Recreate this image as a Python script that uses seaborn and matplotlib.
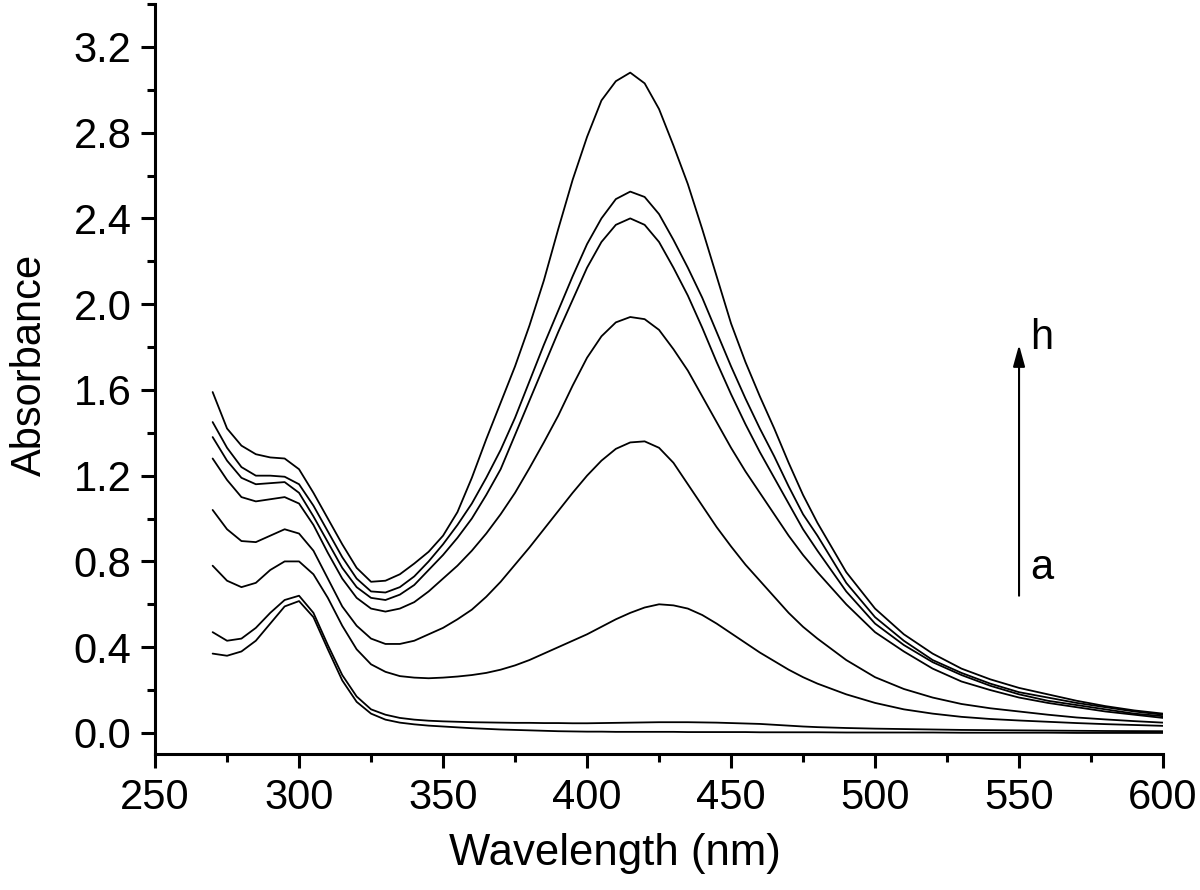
import numpy as np
import pandas as pd
import matplotlib
matplotlib.use("Agg")
import matplotlib.pyplot as plt
import seaborn as sns
from matplotlib.ticker import MultipleLocator, FormatStrFormatter

# wavelength grid (nm)
wavelength = [270, 275, 280, 285, 290, 295, 300, 305, 310, 315, 320, 325, 330,
              335, 340, 345, 350, 355, 360, 365, 370, 375, 380, 385, 390, 395,
              400, 405, 410, 415, 420, 425, 430, 435, 440, 445, 450, 455, 460,
              465, 470, 475, 480, 490, 500, 510, 520, 530, 540, 550, 560, 570,
              580, 590, 600]

# absorbance of each spectrum, a (bottom) to h (top)
abs_a = [0.37, 0.36, 0.38, 0.43, 0.51, 0.59, 0.615, 0.54, 0.39, 0.245, 0.145,
         0.09, 0.062, 0.048, 0.04, 0.034, 0.03, 0.026, 0.022, 0.019, 0.016,
         0.014, 0.012, 0.01, 0.008, 0.007, 0.006, 0.006, 0.005, 0.005, 0.005,
         0.005, 0.005, 0.004, 0.004, 0.004, 0.004, 0.004, 0.003, 0.003, 0.003,
         0.003, 0.003, 0.002, 0.002, 0.002, 0.002, 0.001, 0.001, 0.001, 0.001,
         0.0, 0.0, 0.0, 0.0]
abs_b = [0.47, 0.43, 0.44, 0.49, 0.56, 0.62, 0.64, 0.56, 0.41, 0.27, 0.17,
         0.11, 0.085, 0.07, 0.062, 0.057, 0.054, 0.052, 0.05, 0.049, 0.048,
         0.047, 0.047, 0.046, 0.046, 0.045, 0.045, 0.046, 0.047, 0.048, 0.049,
         0.05, 0.05, 0.05, 0.049, 0.048, 0.046, 0.044, 0.042, 0.038, 0.034,
         0.03, 0.027, 0.023, 0.02, 0.018, 0.016, 0.014, 0.013, 0.012, 0.011,
         0.01, 0.009, 0.0085, 0.008]
abs_c = [0.78, 0.71, 0.68, 0.70, 0.76, 0.80, 0.80, 0.74, 0.63, 0.50, 0.39,
         0.32, 0.285, 0.265, 0.258, 0.255, 0.258, 0.263, 0.27, 0.28, 0.295,
         0.315, 0.34, 0.37, 0.40, 0.43, 0.46, 0.495, 0.53, 0.56, 0.585, 0.60,
         0.595, 0.58, 0.55, 0.51, 0.465, 0.42, 0.375, 0.335, 0.295, 0.26, 0.23,
         0.18, 0.14, 0.11, 0.09, 0.075, 0.065, 0.058, 0.052, 0.046, 0.041,
         0.037, 0.033]
abs_d = [1.04, 0.95, 0.895, 0.89, 0.92, 0.95, 0.93, 0.85, 0.72, 0.59, 0.50,
         0.44, 0.415, 0.415, 0.43, 0.46, 0.49, 0.53, 0.575, 0.635, 0.705,
         0.785, 0.865, 0.95, 1.035, 1.12, 1.20, 1.27, 1.325, 1.355, 1.36,
         1.33, 1.26, 1.16, 1.06, 0.96, 0.87, 0.785, 0.71, 0.635, 0.56, 0.495,
         0.44, 0.34, 0.26, 0.205, 0.165, 0.135, 0.115, 0.10, 0.085, 0.072,
         0.063, 0.055, 0.048]
abs_e = [1.28, 1.18, 1.10, 1.08, 1.09, 1.10, 1.07, 0.97, 0.84, 0.72, 0.63,
         0.58, 0.566, 0.58, 0.61, 0.66, 0.72, 0.78, 0.85, 0.93, 1.02, 1.12,
         1.235, 1.355, 1.48, 1.62, 1.75, 1.85, 1.915, 1.94, 1.93, 1.88, 1.79,
         1.69, 1.57, 1.45, 1.33, 1.22, 1.12, 1.02, 0.92, 0.83, 0.75, 0.60,
         0.47, 0.38, 0.30, 0.24, 0.20, 0.165, 0.14, 0.12, 0.10, 0.085, 0.07]
abs_f = [1.38, 1.27, 1.19, 1.16, 1.165, 1.17, 1.12, 1.01, 0.89, 0.77, 0.68,
         0.63, 0.62, 0.645, 0.69, 0.76, 0.83, 0.91, 1.00, 1.11, 1.23, 1.39,
         1.55, 1.71, 1.87, 2.02, 2.17, 2.29, 2.37, 2.40, 2.37, 2.29, 2.17,
         2.04, 1.89, 1.73, 1.58, 1.44, 1.31, 1.19, 1.07, 0.95, 0.85, 0.66,
         0.51, 0.41, 0.33, 0.27, 0.22, 0.18, 0.15, 0.13, 0.11, 0.09, 0.078]
abs_g = [1.45, 1.33, 1.24, 1.20, 1.20, 1.195, 1.16, 1.06, 0.94, 0.82, 0.72,
         0.66, 0.655, 0.68, 0.73, 0.80, 0.88, 0.97, 1.07, 1.19, 1.32, 1.47,
         1.64, 1.81, 1.97, 2.13, 2.28, 2.40, 2.49, 2.525, 2.50, 2.42, 2.30,
         2.17, 2.03, 1.87, 1.71, 1.56, 1.42, 1.29, 1.15, 1.02, 0.92, 0.70,
         0.54, 0.43, 0.34, 0.28, 0.23, 0.19, 0.165, 0.14, 0.12, 0.10, 0.085]
abs_h = [1.59, 1.42, 1.34, 1.30, 1.285, 1.28, 1.23, 1.12, 1.00, 0.88, 0.77,
         0.705, 0.71, 0.74, 0.79, 0.845, 0.92, 1.03, 1.19, 1.37, 1.54, 1.71,
         1.90, 2.11, 2.35, 2.58, 2.78, 2.95, 3.04, 3.08, 3.03, 2.91, 2.74,
         2.56, 2.35, 2.13, 1.91, 1.73, 1.57, 1.42, 1.26, 1.11, 0.98, 0.75,
         0.58, 0.46, 0.37, 0.30, 0.25, 0.21, 0.18, 0.15, 0.125, 0.105, 0.09]

curves = {"a": abs_a, "b": abs_b, "c": abs_c, "d": abs_d,
          "e": abs_e, "f": abs_f, "g": abs_g, "h": abs_h}

df = pd.concat([pd.DataFrame({"wl": wavelength, "abs": v, "curve": k})
                for k, v in curves.items()], ignore_index=True)

sns.set_style("ticks", {"text.color": "black", "axes.labelcolor": "black",
                        "xtick.color": "black", "ytick.color": "black",
                        "axes.edgecolor": "black"})
plt.rcParams["font.family"] = ["Liberation Sans", "DejaVu Sans"]

fig = plt.figure(figsize=(12, 8.9), dpi=100)
ax = fig.add_axes([0.1292, 0.1524, 0.84, 0.8431])

sns.lineplot(data=df, x="wl", y="abs", units="curve", estimator=None,
             color="black", linewidth=1.3, ax=ax)

ax.set_xlim(250, 600)
ax.set_ylim(-0.1, 3.4)
ax.xaxis.set_major_locator(MultipleLocator(50))
ax.xaxis.set_minor_locator(MultipleLocator(25))
ax.yaxis.set_major_locator(MultipleLocator(0.4))
ax.yaxis.set_minor_locator(MultipleLocator(0.2))
ax.yaxis.set_major_formatter(FormatStrFormatter("%.1f"))

for s in ["top", "right"]:
    ax.spines[s].set_visible(False)
for s in ["left", "bottom"]:
    ax.spines[s].set_linewidth(2.2)

ax.tick_params(which="major", direction="out", length=10, width=2.2,
               labelsize=30, pad=7)
ax.tick_params(which="minor", direction="out", length=5.5, width=2.2)

ax.set_xlabel("Wavelength (nm)", fontsize=31.5, labelpad=11)
ax.set_ylabel("Absorbance", fontsize=30, labelpad=17)
ax.xaxis.label.set_x(0.456)
ax.yaxis.label.set_y(0.519)

ax.annotate("", xy=(550, 1.81), xytext=(550, 0.64),
            arrowprops=dict(arrowstyle="-|>,head_length=0.65,head_width=0.18",
                            color="black", lw=1.5, mutation_scale=20,
                            shrinkA=0, shrinkB=0))
ax.text(554, 1.84, "h", fontsize=30, ha="left", va="center")
ax.text(554, 0.77, "a", fontsize=30, ha="left", va="center")

fig.savefig("out.png", dpi=100)
